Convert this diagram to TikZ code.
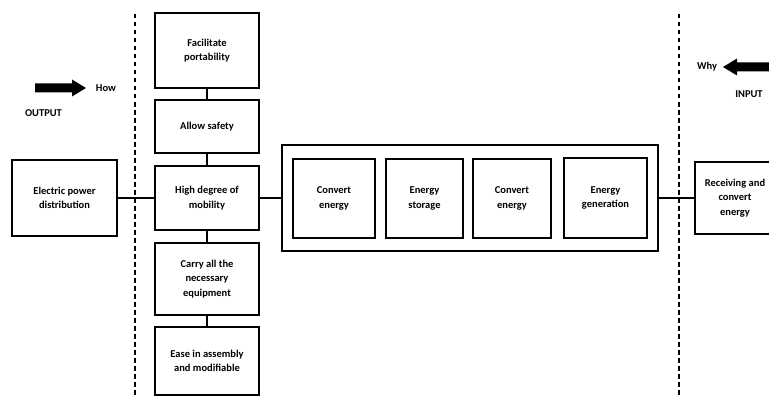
\documentclass[tikz,border=0pt]{standalone}
\usepackage{fontspec}
\setmainfont{Carlito}
\begin{document}
\begin{tikzpicture}[x=1pt,y=-1pt,
  box/.style={draw, line width=1.3pt, align=center, inner sep=0pt,
    font=\bfseries\fontsize{10.5}{14.5}\selectfont},
  lbl/.style={font=\bfseries\fontsize{10.5}{14.5}\selectfont, inner sep=0pt},
  conn/.style={line width=1.2pt},
  divider/.style={line width=1.2pt, dash pattern=on 4.5pt off 3.5pt},
  blockarrow/.style={fill=black}]
\useasboundingbox (0,0) rectangle (769,396);
\begin{scope}
\clip (0,0) rectangle (769,396);
% dashed dividers
\coordinate (dlt) at (135,14);
\coordinate (dlb) at (135,396);
\coordinate (drt) at (679,14);
\coordinate (drb) at (679,396);
\draw[divider] (dlt) -- (dlb);
\draw[divider] (drt) -- (drb);
% left column
\node[box, minimum width=104, minimum height=75] (fac) at (207,50.5) {Facilitate\\portability};
\node[box, minimum width=104, minimum height=53] (safe) at (207,126.5) {Allow safety};
\node[box, minimum width=104, minimum height=64] (mob) at (207,198) {High degree of\\mobility};
\node[box, minimum width=104, minimum height=72] (carry) at (207,279) {Carry all the\\necessary\\equipment};
\node[box, minimum width=104, minimum height=68] (ease) at (207,361) {Ease in assembly\\and modifiable};
\node[box, minimum width=105, minimum height=76] (elec) at (64.5,198) {Electric power\\distribution};
% middle group
\node[draw, line width=1.3pt, minimum width=376, minimum height=106, inner sep=0pt] (outer) at (470,198) {};
\node[box, minimum width=82, minimum height=79] (c1) at (334,198.5) {Convert\\energy};
\node[box, minimum width=77, minimum height=79] (st) at (424.5,198.5) {Energy\\storage};
\node[box, minimum width=78, minimum height=79] (c2) at (512,198.5) {Convert\\energy};
\node[box, minimum width=83, minimum height=80] (gen) at (605.5,198) {Energy\\generation};
\node[box, minimum width=80, minimum height=72] (recv) at (735,198) {Receiving and\\convert\\energy};
% connectors
\draw[conn] (fac.south) -- (safe.north);
\draw[conn] (safe.south) -- (mob.north);
\draw[conn] (mob.south) -- (carry.north);
\draw[conn] (carry.south) -- (ease.north);
\draw[conn] (elec.east) -- (mob.west);
\draw[conn] (mob.east) -- (outer.west);
\draw[conn] (outer.east) -- (recv.west);
% arrows and labels
\fill[blockarrow] (35,83.5) -- (72,83.5) -- (72,79.5) -- (86,88) -- (72,96.5) -- (72,92.5) -- (35,92.5) -- cycle;
\fill[blockarrow] (775,62.5) -- (737,62.5) -- (737,58.5) -- (723,67) -- (737,75.5) -- (737,71.5) -- (775,71.5) -- cycle;
\node[lbl] (how) at (106,88) {How};
\node[lbl] (out) at (43.5,113) {OUTPUT};
\node[lbl] (why) at (707,67) {Why};
\node[lbl] (inp) at (749,94) {INPUT};
\end{scope}
\end{tikzpicture}
\end{document}
